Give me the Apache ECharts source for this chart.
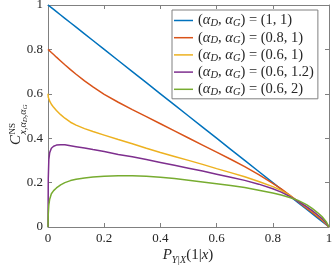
<!DOCTYPE html>
<html>
<head>
<meta charset="utf-8">
<script src="https://cdn.jsdelivr.net/npm/echarts@6/dist/echarts.min.js"></script>
<style>
html,body{margin:0;padding:0;background:#fff;}
#chart{width:332px;height:266px;}
</style>
</head>
<body>
<div id="chart"></div>
<script>
// ---- data ----
var xs = [0, 0.001, 0.003, 0.006, 0.012, 0.02, 0.03, 0.045, 0.06, 0.08, 0.1, 0.13, 0.16, 0.2, 0.25, 0.3, 0.35, 0.4, 0.45, 0.5, 0.55, 0.6, 0.65, 0.7, 0.75, 0.8, 0.83, 0.86, 0.89, 0.92, 0.94, 0.96, 0.975, 0.99, 1];
var blueY   = [1, 0.999, 0.997, 0.994, 0.988, 0.98, 0.97, 0.955, 0.94, 0.92, 0.9, 0.87, 0.84, 0.8, 0.75, 0.7, 0.65, 0.6, 0.55, 0.5, 0.45, 0.4, 0.35, 0.3, 0.25, 0.2, 0.17, 0.14, 0.11, 0.08, 0.06, 0.04, 0.025, 0.01, 0];
var orangeY = [0.8, 0.799, 0.796, 0.793, 0.786, 0.777, 0.765, 0.748, 0.731, 0.709, 0.688, 0.658, 0.631, 0.597, 0.562, 0.529, 0.497, 0.465, 0.433, 0.401, 0.369, 0.337, 0.305, 0.272, 0.236, 0.197, 0.172, 0.144, 0.114, 0.085, 0.066, 0.046, 0.031, 0.013, 0];
var yellowY = [0.6, 0.585, 0.576, 0.567, 0.553, 0.539, 0.525, 0.506, 0.49, 0.472, 0.459, 0.443, 0.43, 0.414, 0.394, 0.375, 0.355, 0.336, 0.318, 0.3, 0.282, 0.263, 0.245, 0.226, 0.205, 0.182, 0.165, 0.142, 0.116, 0.09, 0.071, 0.051, 0.035, 0.016, 0];
var purpleY = [0, 0.22, 0.305, 0.335, 0.355, 0.364, 0.369, 0.371, 0.37, 0.366, 0.362, 0.356, 0.349, 0.34, 0.327, 0.316, 0.304, 0.291, 0.278, 0.265, 0.252, 0.238, 0.224, 0.21, 0.193, 0.172, 0.157, 0.138, 0.116, 0.092, 0.074, 0.054, 0.038, 0.018, 0];
var greenY  = [0, 0.06, 0.1, 0.125, 0.15, 0.164, 0.176, 0.19, 0.2, 0.209, 0.215, 0.221, 0.225, 0.229, 0.231, 0.231, 0.229, 0.224, 0.218, 0.211, 0.203, 0.195, 0.187, 0.178, 0.166, 0.153, 0.144, 0.133, 0.12, 0.101, 0.084, 0.064, 0.047, 0.024, 0];
var seriesLabels = ['(1, 1)', '(0.8, 1)', '(0.6, 1)', '(0.6, 1.2)', '(0.6, 2)'];
var xTickLabels = ['0', '0.2', '0.4', '0.6', '0.8', '1'];
var yTickLabels = ['0', '0.2', '0.4', '0.6', '0.8', '1'];
var colors = ['#0072BD', '#D95319', '#EDB120', '#7E2F8E', '#77AC30'];

var allY = [blueY, orangeY, yellowY, purpleY, greenY];
function pairs(ys){ return xs.map(function(x,i){ return [x, ys[i]]; }); }

var SERIF = '"Liberation Serif", "DejaVu Serif", serif';
var axisCol = '#808080';
var textCol = '#262626';

var chart = echarts.init(document.getElementById('chart'), null, {renderer:'canvas'});

function baseAxis(pos, labels, showLabel){
  return {
    type:'value', position: pos, min:0, max:1, interval:0.2,
    axisLine:{show:true, onZero:false, lineStyle:{color:axisCol, width:1}},
    axisTick:{show:true, inside:true, length:4, lineStyle:{color:axisCol, width:1}},
    splitLine:{show:false},
    axisLabel:{show:showLabel, color:textCol, fontFamily:SERIF, fontSize:13, margin:5,
      formatter:function(v){ var i = Math.round(v/0.2); return labels[i]; }}
  };
}

var option = {
  animation:false,
  backgroundColor:'#fff',
  grid:{left:48, right:3, top:5, bottom:39, outerBoundsMode:'none'},
  xAxis:[baseAxis('bottom', xTickLabels, true), baseAxis('top', xTickLabels, false)],
  yAxis:[baseAxis('left', yTickLabels, true), baseAxis('right', yTickLabels, false)],
  legend:{
    orient:'vertical', left:172, top:10,
    padding:[2,4,1,2], itemGap:0.2, itemWidth:19, itemHeight:1.5, icon:'rect',
    backgroundColor:'#fff', borderColor:axisCol, borderWidth:1, borderRadius:0,
    data: seriesLabels,
    formatter:function(name){ return '({i|α}{s|D}, {i|α}{s|G}) = ' + name; },
    textStyle:{color:textCol, fontFamily:SERIF, fontSize:14.5, lineHeight:17,
      rich:{
        i:{fontStyle:'italic', fontFamily:SERIF, fontSize:14.5, lineHeight:17, color:textCol},
        s:{fontStyle:'italic', fontFamily:SERIF, fontSize:10.5, lineHeight:10, verticalAlign:'bottom', color:textCol}
      }}
  },
  series: allY.map(function(ys, k){
    return {
      type:'line', name: seriesLabels[k], data: pairs(ys),
      xAxisIndex:0, yAxisIndex:0,
      showSymbol:false, symbol:'none', smooth:false,
      lineStyle:{color:colors[k], width:1.5}, itemStyle:{color:colors[k]},
      z: 2 + k
    };
  }),
  graphic:[
    {type:'text', silent:true,
      style:{text:'{i|P}{s|Y|X}{n|(1|}{i|x}{n|)}', x:188, y:255, align:'center', verticalAlign:'middle',
        fill:textCol, fontFamily:SERIF, fontSize:14,
        rich:{
          i:{fontStyle:'italic', fontFamily:SERIF, fontSize:15, lineHeight:20, color:textCol},
          n:{fontFamily:SERIF, fontSize:15, lineHeight:20, color:textCol},
          s:{fontStyle:'italic', fontFamily:SERIF, fontSize:10, lineHeight:10, verticalAlign:'bottom', color:textCol}
        }}},
    {type:'group', x:16, y:124, rotation:Math.PI/2, silent:true, children:[
      {type:'text', style:{text:'C', x:-21, y:0, align:'left', verticalAlign:'middle', fill:textCol,
        fontFamily:SERIF, fontStyle:'italic', fontSize:15}},
      {type:'text', style:{text:'NS', x:-10.5, y:-3, align:'left', verticalAlign:'middle', fill:textCol,
        fontFamily:SERIF, fontSize:9}},
      {type:'text', style:{text:'{i|x},{i|α}{s|D},{i|α}{s|G}', x:-10.5, y:7, align:'left', verticalAlign:'middle', fill:textCol,
        fontFamily:SERIF, fontSize:10,
        rich:{
          i:{fontStyle:'italic', fontFamily:SERIF, fontSize:10, lineHeight:11, color:textCol},
          s:{fontStyle:'italic', fontFamily:SERIF, fontSize:7, lineHeight:6, verticalAlign:'bottom', color:textCol}
        }}}
    ]}
  ]
};
chart.setOption(option);
</script>
</body>
</html>
